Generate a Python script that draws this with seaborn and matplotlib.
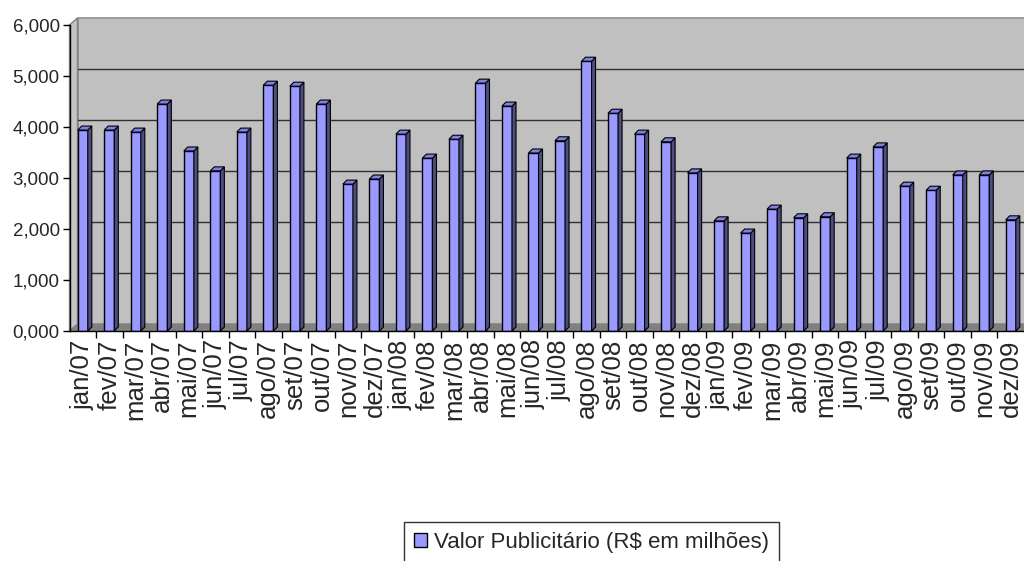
import numpy as np
import pandas as pd
import matplotlib
matplotlib.use("Agg")
import matplotlib.pyplot as plt
import seaborn as sns
from matplotlib.patches import Polygon, Patch

# data (R$ millions)
months = ["jan/07", "fev/07", "mar/07", "abr/07", "mai/07", "jun/07", "jul/07", "ago/07",
          "set/07", "out/07", "nov/07", "dez/07",
          "jan/08", "fev/08", "mar/08", "abr/08", "mai/08", "jun/08", "jul/08", "ago/08",
          "set/08", "out/08", "nov/08", "dez/08",
          "jan/09", "fev/09", "mar/09", "abr/09", "mai/09", "jun/09", "jul/09", "ago/09",
          "set/09", "out/09", "nov/09", "dez/09"]
values = [3940, 3940, 3900, 4450, 3530, 3140, 3900, 4820, 4800, 4450, 2880, 2980,
          3860, 3390, 3760, 4860, 4410, 3490, 3730, 5290, 4270, 3860, 3710, 3100,
          2160, 1920, 2390, 2220, 2240, 3390, 3610, 2840, 2760, 3060, 3060, 2180]
y_ticks = [0, 1000, 2000, 3000, 4000, 5000, 6000]
y_tick_labels = ["0,000", "1,000", "2,000", "3,000", "4,000", "5,000", "6,000"]
series_name = "Valor Publicitário (R$ em milhões)"

df = pd.DataFrame({"mes": months, "valor": values})

sns.set_theme(style="white")
plt.rcParams["font.family"] = ["Liberation Sans", "DejaVu Sans"]

W, H = 1024, 561
fig = plt.figure(figsize=(W / 100, H / 100), dpi=100)
ax_l, ax_r, ax_t, ax_b = 69.5, 1024, 25, 331
ax = fig.add_axes([ax_l / W, 1 - ax_b / H, (ax_r - ax_l) / W, (ax_b - ax_t) / H])

n = len(months)
ax.set_xlim(-0.5, n - 0.5)
ax.set_ylim(0, 6000)
px_x = (ax_r - ax_l) / n          # pixels per category
px_y = (ax_b - ax_t) / 6000       # pixels per unit

# 3d wall depth in data units
dx, dy = 8 / px_x, 7 / px_y
x0, x1 = -0.5, n - 0.5

ax.patch.set_visible(False)
wall = Polygon([(x0 + dx, dy), (x1 + dx, dy), (x1 + dx, 6000 + dy), (x0 + dx, 6000 + dy)],
               closed=True, fc="#c0c0c0", ec="#909090", lw=1.2, clip_on=False, zorder=0.1)
side = Polygon([(x0, 0), (x0 + dx, dy), (x0 + dx, 6000 + dy), (x0, 6000)],
               closed=True, fc="#c4c4c4", ec="#808080", lw=1.0, clip_on=False, zorder=0.2)
floor = Polygon([(x0, 0), (x1, 0), (x1 + dx, dy), (x0 + dx, dy)],
                closed=True, fc="#808080", ec="#808080", lw=0.5, clip_on=False, zorder=0.3)
for p in (wall, side, floor):
    ax.add_patch(p)
for k in y_ticks[1:-1]:
    ax.plot([x0 + dx, x1 + dx], [k + dy, k + dy], color="#303030", lw=1.0,
            clip_on=False, zorder=0.4)

sns.barplot(data=df, x="mes", y="valor", color="#9999ff", width=0.38,
            edgecolor="black", linewidth=1.0, saturation=1, ax=ax, zorder=3)

# bar side and top faces
bdx, bdy = 4 / px_x, 4 / px_y
for bar in list(ax.patches):
    if bar in (wall, side, floor):
        continue
    bx, bw, bh = bar.get_x(), bar.get_width(), bar.get_height()
    right = bx + bw
    ax.add_patch(Polygon([(right, 0), (right + bdx, bdy), (right + bdx, bh + bdy), (right, bh)],
                         closed=True, fc="#4d4d80", ec="black", lw=0.8, zorder=3.1, clip_on=False))
    ax.add_patch(Polygon([(bx, bh), (bx + bdx, bh + bdy), (right + bdx, bh + bdy), (right, bh)],
                         closed=True, fc="#8080e8", ec="black", lw=0.8, zorder=3.1, clip_on=False))

ax.set_xlim(x0, x1)
ax.set_ylim(0, 6000)
ax.set_xlabel("")
ax.set_ylabel("")
ax.grid(False)

ax.set_yticks(y_ticks)
ax.set_yticklabels(y_tick_labels, fontsize=13.5)
ax.set_xticks(range(n))
ax.set_xticklabels(months, rotation=90, fontsize=18.5)
ax.set_xticks(np.arange(0.5, n - 0.5, 1), minor=True)
ax.tick_params(axis="y", which="major", direction="out", length=5, width=1,
               color="black", left=True, pad=2)
ax.tick_params(axis="x", which="major", length=0, pad=6)
ax.tick_params(axis="x", which="minor", direction="out", length=5, width=1,
               color="black", bottom=True)

for s in ("top", "right"):
    ax.spines[s].set_visible(False)
for s in ("left", "bottom"):
    ax.spines[s].set_visible(True)
    ax.spines[s].set_color("black")
    ax.spines[s].set_linewidth(1.0)
    ax.spines[s].set_zorder(4)

handle = Patch(facecolor="#9999ff", edgecolor="black", linewidth=1.0)
leg = fig.legend([handle], [series_name], loc="upper left",
                 bbox_to_anchor=(404 / W, 1 - 522 / H), fontsize=16,
                 frameon=True, fancybox=False, borderpad=0.45, borderaxespad=0,
                 handlelength=0.6, handleheight=0.6, handletextpad=0.3)
leg.get_frame().set_edgecolor("black")
leg.get_frame().set_linewidth(1.0)

fig.savefig("out.png", dpi=100)
